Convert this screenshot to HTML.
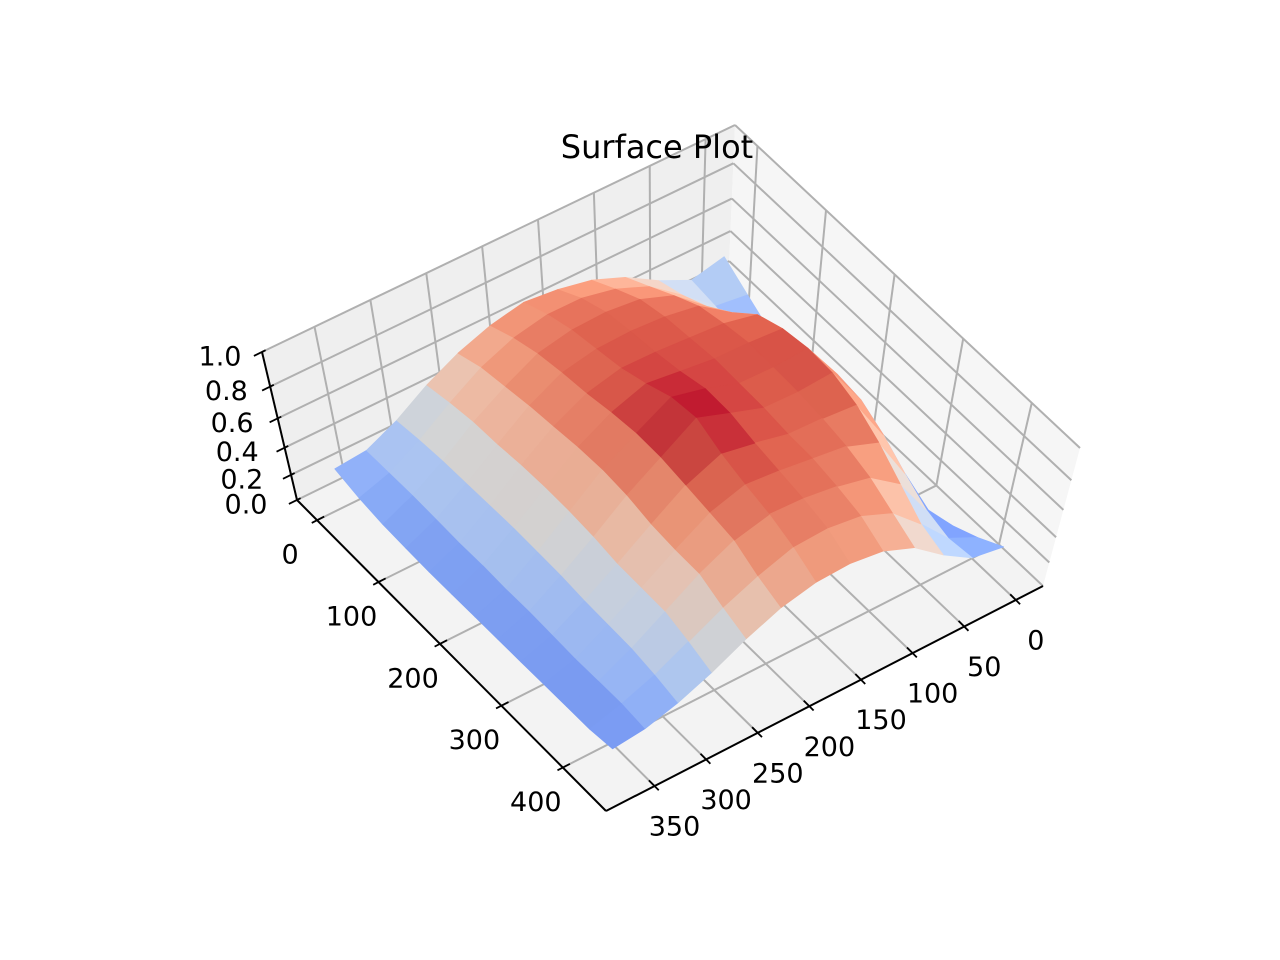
<!DOCTYPE html>
<html><head><meta charset="utf-8"><title>Surface Plot</title>
<style>
html,body{margin:0;padding:0;background:#fff;}
#chart{display:block;width:1280px;height:960px;}
text{font-family:"DejaVu Sans","Liberation Sans",sans-serif;fill:#000;}
</style></head>
<body>
<svg id="chart" width="1280" height="960" viewBox="0 0 1280 960" xmlns="http://www.w3.org/2000/svg">
<rect x="0" y="0" width="1280" height="960" fill="#ffffff"/>
<g id="panes"></g>
<g id="grid"></g>
<g id="surface"></g>
<g id="axes"></g>
<g id="labels"></g>
<text x="657" y="158" font-size="32" text-anchor="middle">Surface Plot</text>
</svg>
<script>
// ---- data ----
const xVals = [0,31,62,93,124,155,186,217,248,279,310,341,372];
const yVals = [0,36.5,73,109.5,146,182.5,219,255.5,292,328.5,365,401.5,438];
const zRow0  = [0.45,0.40,0.50,0.62,0.70,0.74,0.76,0.72,0.65,0.55,0.42,0.32,0.30];
const zRow1  = [0.35,0.38,0.55,0.70,0.78,0.82,0.82,0.78,0.70,0.58,0.44,0.32,0.25];
const zRow2  = [0.25,0.35,0.62,0.78,0.85,0.87,0.86,0.82,0.72,0.60,0.45,0.32,0.22];
const zRow3  = [0.16,0.38,0.72,0.85,0.88,0.89,0.88,0.84,0.74,0.60,0.45,0.31,0.21];
const zRow4  = [0.10,0.50,0.84,0.88,0.89,0.90,0.90,0.85,0.75,0.61,0.45,0.30,0.20];
const zRow5  = [0.07,0.62,0.89,0.90,0.90,0.92,0.94,0.87,0.76,0.61,0.45,0.30,0.20];
const zRow6  = [0.05,0.66,0.91,0.89,0.89,0.95,0.99,0.88,0.76,0.60,0.44,0.29,0.20];
const zRow7  = [0.04,0.64,0.90,0.88,0.88,0.94,1.00,0.87,0.74,0.58,0.43,0.29,0.20];
const zRow8  = [0.04,0.56,0.85,0.86,0.86,0.90,0.93,0.84,0.70,0.55,0.41,0.28,0.20];
const zRow9  = [0.05,0.45,0.76,0.83,0.85,0.87,0.88,0.81,0.68,0.54,0.40,0.27,0.20];
const zRow10 = [0.10,0.35,0.64,0.78,0.82,0.84,0.84,0.78,0.67,0.53,0.39,0.27,0.20];
const zRow11 = [0.18,0.30,0.52,0.70,0.78,0.80,0.78,0.70,0.60,0.48,0.36,0.27,0.20];
const zRow12 = [0.28,0.32,0.46,0.62,0.70,0.72,0.70,0.64,0.54,0.42,0.32,0.25,0.22];
const zRows = [zRow0,zRow1,zRow2,zRow3,zRow4,zRow5,zRow6,zRow7,zRow8,zRow9,zRow10,zRow11,zRow12];
const xTicks = [0,50,100,150,200,250,300,350];
const yTicks = [0,100,200,300,400];
const zTicks = [0.0,0.2,0.4,0.6,0.8,1.0];
const zTickLabels = ["0.0","0.2","0.4","0.6","0.8","1.0"];

// ---- projection (box corners on screen) ----
const XMIN=-26.3, XMAX=397, YMIN=-32.7, YMAX=470.3, ZMIN=0, ZMAX=1;
const D=[728,289],A=[297,500],B=[606,811],C=[1043,586];
const Dt=[735,125],At=[262,352],Bt=[610,655],Ct=[1080,448];
function bil(P00,P10,P11,P01,fx,fy,k){
  return P00[k]*(1-fx)*(1-fy)+P10[k]*fx*(1-fy)+P11[k]*fx*fy+P01[k]*(1-fx)*fy;
}
function gz(z){const t=(z-ZMIN)/(ZMAX-ZMIN);return t/(1.22-0.22*t);}
function proj(x,y,z){
  const fx=(x-XMIN)/(XMAX-XMIN), fy=(y-YMIN)/(YMAX-YMIN), g=gz(z);
  const out=[];
  for(let k=0;k<2;k++){
    const f=bil(D,A,B,C,fx,fy,k), t=bil(Dt,At,Bt,Ct,fx,fy,k);
    out.push(f*(1-g)+t*g);
  }
  return out;
}
const NS="http://www.w3.org/2000/svg";
function mk(tag,parent){const e=document.createElementNS(NS,tag);parent.appendChild(e);return e;}
function pts(arr){return arr.map(p=>p[0].toFixed(1)+","+p[1].toFixed(1)).join(" ");}

// ---- panes ----
const panes=document.getElementById('panes');
const paneLeft=mk('polygon',panes);


paneLeft.setAttribute('points',pts([proj(XMIN,YMIN,0),proj(XMAX,YMIN,0),proj(XMAX,YMIN,ZMAX),proj(XMIN,YMIN,ZMAX)]));
paneLeft.setAttribute('fill','#efefef');
const paneRight=mk('polygon',panes);


paneRight.setAttribute('points',pts([proj(XMIN,YMIN,0),proj(XMIN,YMAX,0),proj(XMIN,YMAX,ZMAX),proj(XMIN,YMIN,ZMAX)]));
paneRight.setAttribute('fill','#f6f6f6');
const paneFloor=mk('polygon',panes);


paneFloor.setAttribute('points',pts([proj(XMIN,YMIN,0),proj(XMAX,YMIN,0),proj(XMAX,YMAX,0),proj(XMIN,YMAX,0)]));
paneFloor.setAttribute('fill','#f3f3f3');

// ---- gridlines ----
const grid=document.getElementById('grid');
function gline(p,q,name){
  const l=mk('line',grid);
  
  
  l.setAttribute('x1',p[0]);l.setAttribute('y1',p[1]);l.setAttribute('x2',q[0]);l.setAttribute('y2',q[1]);
  l.setAttribute('stroke','#b0b0b0');l.setAttribute('stroke-width','2');
}
xTicks.forEach(x=>{
  gline(proj(x,YMIN,0),proj(x,YMIN,ZMAX),'x-gridline-back');
  gline(proj(x,YMIN,0),proj(x,YMAX,0),'x-gridline-floor');
});
yTicks.forEach(y=>{
  gline(proj(XMIN,y,0),proj(XMIN,y,ZMAX),'y-gridline-back');
  gline(proj(XMIN,y,0),proj(XMAX,y,0),'y-gridline-floor');
});
zTicks.forEach(z=>{
  gline(proj(XMIN,YMIN,z),proj(XMAX,YMIN,z),'z-gridline-left');
  gline(proj(XMIN,YMIN,z),proj(XMIN,YMAX,z),'z-gridline-right');
});

// ---- colormap (coolwarm) ----
const cmStops=[[59,76,192],[98,130,234],[141,176,254],[184,208,249],[221,221,221],[245,196,173],[244,154,123],[222,96,77],[180,4,38]];
function cmap(t){
  t=Math.max(0,Math.min(1,t));const s=t*(cmStops.length-1);const i=Math.min(cmStops.length-2,Math.floor(s));const f=s-i;
  const a=cmStops[i],b=cmStops[i+1];
  return [0,1,2].map(k=>a[k]+(b[k]-a[k])*f);
}

// ---- surface ----
const surf=document.getElementById('surface');
let zmin=Infinity,zmax=-Infinity;
zRows.forEach(r=>r.forEach(v=>{zmin=Math.min(zmin,v);zmax=Math.max(zmax,v);}));
const cells=[];
for(let i=0;i<yVals.length-1;i++){
  for(let j=0;j<xVals.length-1;j++){
    const z00=zRows[i][j],z01=zRows[i][j+1],z10=zRows[i+1][j],z11=zRows[i+1][j+1];
    const p=[proj(xVals[j],yVals[i],z00),proj(xVals[j+1],yVals[i],z01),proj(xVals[j+1],yVals[i+1],z11),proj(xVals[j],yVals[i+1],z10)];
    const zm=(z00+z01+z10+z11)/4;
    const fx=((xVals[j]+xVals[j+1])/2-XMIN)/(XMAX-XMIN), fy=((yVals[i]+yVals[i+1])/2-YMIN)/(YMAX-YMIN);
    const key=0.354*(fx+fy)+0.5*gz(zm);
    const dzx=((z01+z11)-(z00+z10))/2, dzy=((z10+z11)-(z00+z01))/2;
    const shade=Math.max(0.84,Math.min(1.04,1+0.3*dzx+0.2*dzy));
    cells.push({p,zm,key,shade});
  }
}
cells.sort((a,b)=>a.key-b.key);
cells.forEach(c=>{
  const col=cmap((c.zm-zmin)/(zmax-zmin)).map(v=>Math.round(Math.min(255,v*c.shade)));
  const poly=mk('polygon',surf);
  
  
  poly.setAttribute('points',pts(c.p));
  const fill='rgb('+col.join(',')+')';
  poly.setAttribute('fill',fill);
  poly.setAttribute('stroke',fill);
  poly.setAttribute('stroke-width','0.8');
  poly.setAttribute('stroke-linejoin','round');
});

// ---- axes ----
const axes=document.getElementById('axes');
const labels=document.getElementById('labels');
function aline(p,q,name,w){
  const l=mk('line',axes);
  
  
  l.setAttribute('x1',p[0]);l.setAttribute('y1',p[1]);l.setAttribute('x2',q[0]);l.setAttribute('y2',q[1]);
  l.setAttribute('stroke','#000');l.setAttribute('stroke-width',w);
}
function unit(p,q){const dx=q[0]-p[0],dy=q[1]-p[1],n=Math.hypot(dx,dy);return [dx/n,dy/n];}
function label(p,txt,name,size){
  const t=mk('text',labels);
  
  
  t.setAttribute('x',p[0].toFixed(1));t.setAttribute('y',p[1].toFixed(1));
  t.setAttribute('font-size',size);t.setAttribute('text-anchor','middle');t.setAttribute('dominant-baseline','central');
  t.textContent=txt;
}
aline(proj(XMAX,YMIN,0),proj(XMAX,YMAX,0),'y-axis-line','2');
aline(proj(XMAX,YMAX,0),proj(XMIN,YMAX,0),'x-axis-line','2');
aline(proj(XMAX,YMIN,0),proj(XMAX,YMIN,ZMAX),'z-axis-line','2');
const uY=unit(B,C);
yTicks.forEach(y=>{
  const p=proj(XMAX,y,0);
  aline([p[0]-uY[0]*6,p[1]-uY[1]*6],[p[0]+uY[0]*8,p[1]+uY[1]*8],'y-tick','1.8');
  label([p[0]-27,p[1]+35],String(y),'y-tick-label','27');
});
const uX=unit(B,A);
xTicks.forEach(x=>{
  const p=proj(x,YMAX,0);
  aline([p[0]-uX[0]*6,p[1]-uX[1]*6],[p[0]+uX[0]*8,p[1]+uX[1]*8],'x-tick','1.8');
  label([p[0]+20,p[1]+41],String(x),'x-tick-label','27');
});
const uZ=unit(D,A);
zTicks.forEach((z,k)=>{
  const p=proj(XMAX,YMIN,z);
  aline([p[0]-uZ[0]*4,p[1]-uZ[1]*4],[p[0]+uZ[0]*9,p[1]+uZ[1]*9],'z-tick','1.8');
  label([p[0]-51+9*z,p[1]+5],zTickLabels[k],'z-tick-label','27');
});
</script>
</body></html>
